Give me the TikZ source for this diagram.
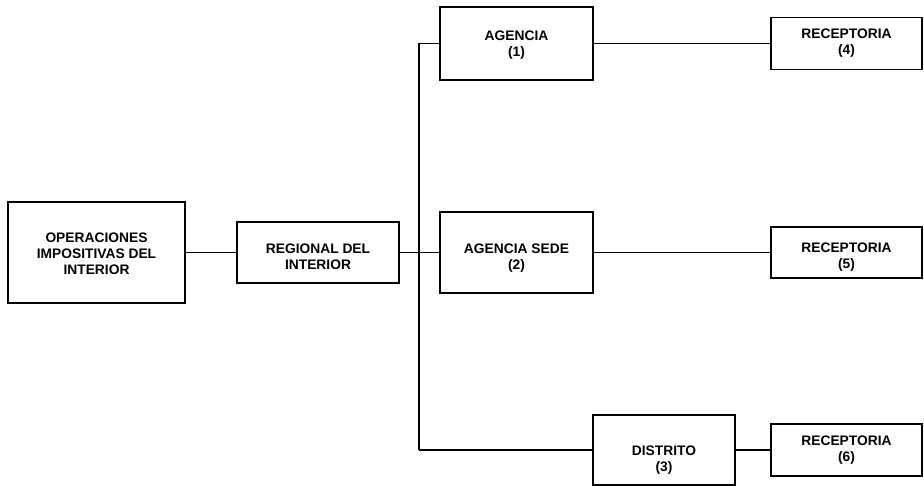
\documentclass[tikz,border=0pt]{standalone}
\usepackage{fontspec}
\setmainfont{Liberation Sans}
\begin{document}
\begin{tikzpicture}[x=1pt,y=-1pt,
  box/.style={draw=black, line width=1.6pt, inner sep=0pt},
  lbl/.style={align=center, font=\bfseries\fontsize{13.8}{16}\selectfont, inner sep=0pt},
  conn/.style={draw=black, line width=1.3pt}]
\useasboundingbox (0,0) rectangle (924,486);
% boxes
\node[box, minimum width=177pt, minimum height=101pt] (ops) at (96.5,252.5) {};
\node[box, minimum width=162pt, minimum height=61pt] (reg) at (318,252.5) {};
\node[box, minimum width=153pt, minimum height=73pt] (ag1) at (516.5,43.5) {};
\node[box, minimum width=153pt, minimum height=81pt] (ag2) at (516.5,252.5) {};
\node[box, minimum width=142pt, minimum height=70pt] (dis) at (664,450) {};
\node[box, minimum width=151pt, minimum height=52pt] (r4) at (846.5,43.5) {};
\node[box, minimum width=151pt, minimum height=51pt] (r5) at (846.5,252.5) {};
\node[box, minimum width=151pt, minimum height=52pt] (r6) at (846.5,450) {};
% labels
\node[lbl] (opsT) at ([yshift=-1.5]ops.center) {OPERACIONES\\IMPOSITIVAS DEL\\INTERIOR};
\node[lbl] (regT) at ([yshift=-4]reg.center) {REGIONAL DEL\\INTERIOR};
\node[lbl] (ag1T) at ([yshift=-1.5]ag1.center) {AGENCIA\\(1)};
\node[lbl] (ag2T) at ([yshift=-6]ag2.center) {AGENCIA SEDE\\(2)};
\node[lbl] (disT) at ([yshift=-10]dis.center) {DISTRITO\\(3)};
\node[lbl] (r4T) at (r4.center) {RECEPTORIA\\(4)};
\node[lbl] (r5T) at ([yshift=-5]r5.center) {RECEPTORIA\\(5)};
\node[lbl] (r6T) at (r6.center) {RECEPTORIA\\(6)};
% junction points
\coordinate (jt) at (419,43.5);
\coordinate (jm) at (419,252.5);
\coordinate (jb) at (419,450);
% connectors
\draw[conn] (ops.east) -- (reg.west);
\draw[conn] (reg.east) -- (jm);
\draw[conn] (jt) -- (jb);
\draw[conn] (jt) -- (ag1.west);
\draw[conn] (jm) -- (ag2.west);
\draw[conn] (jb) -- (dis.west);
\draw[conn] (ag1.east) -- (r4.west);
\draw[conn] (ag2.east) -- (r5.west);
\draw[conn] (dis.east) -- (r6.west);
\end{tikzpicture}
\end{document}
